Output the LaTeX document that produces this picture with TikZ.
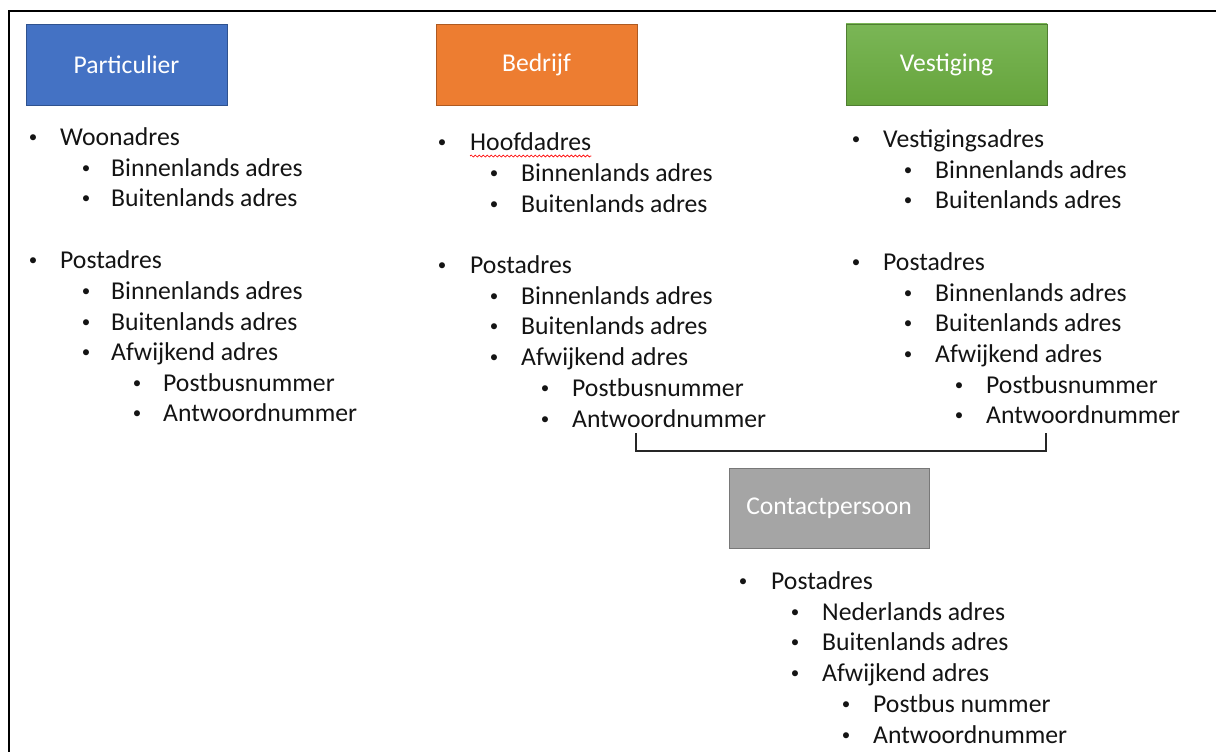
\documentclass[tikz,border=0pt]{standalone}
\usepackage{fontspec}
\setmainfont{Carlito}
\usetikzlibrary{decorations.pathmorphing,calc}
\definecolor{cblue}{RGB}{68,114,196}
\definecolor{cblueE}{RGB}{47,82,143}
\definecolor{corange}{RGB}{237,125,49}
\definecolor{corangeE}{RGB}{174,90,33}
\definecolor{cgreenT}{RGB}{122,182,86}
\definecolor{cgreenB}{RGB}{102,164,60}
\definecolor{cgreenE}{RGB}{80,126,50}
\definecolor{cgray}{RGB}{165,165,165}
\definecolor{cgrayE}{RGB}{120,120,120}
\definecolor{ctext}{RGB}{20,20,20}
\begin{document}
\begin{tikzpicture}[x=1pt,y=-1pt,
  hdr/.style={rectangle, minimum width=201pt, minimum height=81pt, inner sep=0pt,
    text=white, font=\fontsize{25.6}{30}\selectfont, line width=0.8pt},
  txt/.style={anchor=base west, inner sep=0pt, text=ctext, font=\fontsize{25.7}{30}\selectfont},
  bul/.style={anchor=base, inner sep=0pt, text=ctext, yshift=3pt, font=\fontsize{17}{20}\selectfont},
  frame/.style={line width=2pt, black},
  bracket/.style={line width=1.8pt, black!85}
]
\useasboundingbox (0,0) rectangle (1216,752);
\fill[white] (0,0) rectangle (1216,752);
\draw[frame] (9,752) -- (9,11) -- (1216,11);

% headers
\node[hdr, fill=cblue, draw=cblueE] (part) at (126.5,64.5) {Particulier};
\node[hdr, fill=corange, draw=corangeE] (bedr) at (536.5,64.5) {Bedrijf};
\node[hdr, top color=cgreenT, bottom color=cgreenB, draw=cgreenE] (vest) at (946.5,64.5) {Vestiging};
\node[hdr, fill=cgray, draw=cgrayE, minimum width=200pt, minimum height=80pt] (cont) at (829,508) {Contactpersoon};

% Particulier list
\node[bul] (pb1) at (33,145) {•};   \node[txt] (pt1) at (60,145) {Woonadres};
\node[bul] (pb2) at (86,176) {•};   \node[txt] (pt2) at (111,176) {Binnenlands adres};
\node[bul] (pb3) at (86,206) {•};   \node[txt] (pt3) at (111,206) {Buitenlands adres};
\node[bul] (pb4) at (33,268) {•};   \node[txt] (pt4) at (60,268) {Postadres};
\node[bul] (pb5) at (86,299) {•};   \node[txt] (pt5) at (111,299) {Binnenlands adres};
\node[bul] (pb6) at (86,330) {•};   \node[txt] (pt6) at (111,330) {Buitenlands adres};
\node[bul] (pb7) at (86,360) {•};   \node[txt] (pt7) at (111,360) {Afwijkend adres};
\node[bul] (pb8) at (137,391) {•};  \node[txt] (pt8) at (163,391) {Postbusnummer};
\node[bul] (pb9) at (137,421) {•};  \node[txt] (pt9) at (163,421) {Antwoordnummer};

% Bedrijf list
\node[bul] (bb1) at (442,150) {•};  \node[txt] (bt1) at (470,150) {Hoofdadres};
\node[bul] (bb2) at (494,181) {•};  \node[txt] (bt2) at (521,181) {Binnenlands adres};
\node[bul] (bb3) at (494,212) {•};  \node[txt] (bt3) at (521,212) {Buitenlands adres};
\node[bul] (bb4) at (442,273) {•};  \node[txt] (bt4) at (470,273) {Postadres};
\node[bul] (bb5) at (494,304) {•};  \node[txt] (bt5) at (521,304) {Binnenlands adres};
\node[bul] (bb6) at (494,334) {•};  \node[txt] (bt6) at (521,334) {Buitenlands adres};
\node[bul] (bb7) at (494,365) {•};  \node[txt] (bt7) at (521,365) {Afwijkend adres};
\node[bul] (bb8) at (545,396) {•};  \node[txt] (bt8) at (572,396) {Postbusnummer};
\node[bul] (bb9) at (545,427) {•};  \node[txt] (bt9) at (572,427) {Antwoordnummer};
\coordinate (sqA) at ($(bt1.base west)+(0,6)$);
\coordinate (sqB) at ($(bt1.base east)+(0,6)$);
\draw[red, line width=0.7pt, decorate, decoration={snake, segment length=4pt, amplitude=1pt}] (sqA) -- (sqB);

% Vestiging list
\node[bul] (vb1) at (856,147) {•};  \node[txt] (vt1) at (883,147) {Vestigingsadres};
\node[bul] (vb2) at (908,178) {•};  \node[txt] (vt2) at (935,178) {Binnenlands adres};
\node[bul] (vb3) at (908,208) {•};  \node[txt] (vt3) at (935,208) {Buitenlands adres};
\node[bul] (vb4) at (856,270) {•};  \node[txt] (vt4) at (883,270) {Postadres};
\node[bul] (vb5) at (908,301) {•};  \node[txt] (vt5) at (935,301) {Binnenlands adres};
\node[bul] (vb6) at (908,331) {•};  \node[txt] (vt6) at (935,331) {Buitenlands adres};
\node[bul] (vb7) at (908,362) {•};  \node[txt] (vt7) at (935,362) {Afwijkend adres};
\node[bul] (vb8) at (959,393) {•};  \node[txt] (vt8) at (986,393) {Postbusnummer};
\node[bul] (vb9) at (959,423) {•};  \node[txt] (vt9) at (986,423) {Antwoordnummer};

% Contactpersoon list
\node[bul] (cb1) at (743,589) {•};  \node[txt] (ct1) at (771,589) {Postadres};
\node[bul] (cb2) at (795,620) {•};  \node[txt] (ct2) at (822,620) {Nederlands adres};
\node[bul] (cb3) at (795,650) {•};  \node[txt] (ct3) at (822,650) {Buitenlands adres};
\node[bul] (cb4) at (795,681) {•};  \node[txt] (ct4) at (822,681) {Afwijkend adres};
\node[bul] (cb5) at (846,712) {•};  \node[txt] (ct5) at (873,712) {Postbus nummer};
\node[bul] (cb6) at (846,743) {•};  \node[txt] (ct6) at (873,743) {Antwoordnummer};

% bracket
\coordinate (brL) at (636,433);
\coordinate (brR) at (1046,433);
\draw[bracket] (brL) -- ++(0,18) -| (brR);
\end{tikzpicture}
\end{document}
